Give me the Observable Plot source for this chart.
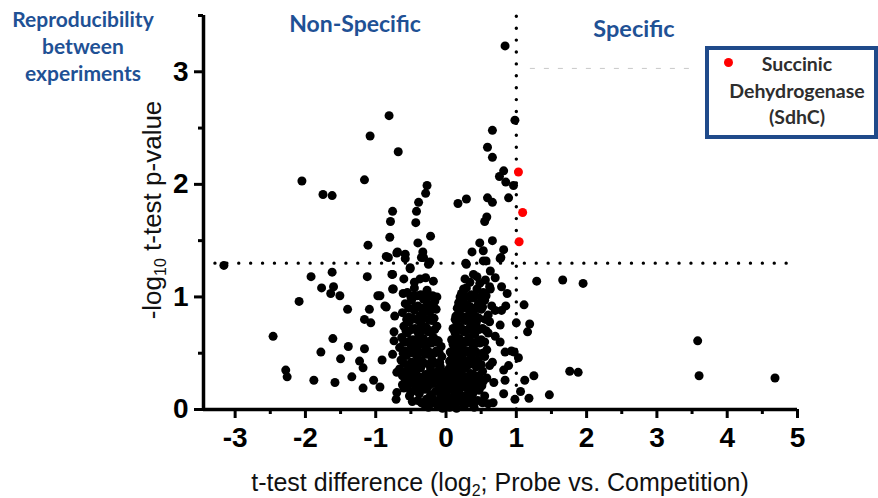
<!DOCTYPE html>
<html><head><meta charset="utf-8">
<script src="https://cdn.jsdelivr.net/npm/d3@7"></script>
<script src="https://cdn.jsdelivr.net/npm/@observablehq/plot@0.6"></script>
<style>
body{margin:0;background:#fff;}
#wrap{position:relative;width:878px;height:498px;overflow:hidden;font-family:"Liberation Sans",Arial,sans-serif;}
#chart{position:absolute;left:0;top:0;}
.blue{position:absolute;color:#1f5195;font-family:Lato,"Open Sans",sans-serif;font-weight:bold;white-space:nowrap;}
#repro{left:-50px;top:5px;width:266px;text-align:center;font-size:21px;line-height:27px;}
#nonspec{left:255px;width:200px;text-align:center;top:9px;font-size:23px;}
#spec{left:534px;width:200px;text-align:center;top:14px;font-size:23.5px;}
#legend{position:absolute;left:705px;top:46px;width:165px;height:85px;border:4px solid #1f4a8a;background:#fff;}
#legdot{position:absolute;left:15px;top:8px;width:9px;height:9px;border-radius:50%;background:#ff0000;}
#legtext{position:absolute;left:0;width:176px;top:1px;text-align:center;font-family:Lato,"Open Sans",sans-serif;font-weight:bold;font-size:19.5px;line-height:26.5px;color:#2e2e2e;}
#xlab{position:absolute;left:150px;width:700px;top:469px;text-align:center;font-size:25px;line-height:26px;color:#111;white-space:nowrap;}
#ylab{position:absolute;left:152px;top:210px;transform:translate(-50%,-50%) rotate(-90deg);font-size:26px;line-height:28px;color:#111;white-space:nowrap;}
sub{font-size:16px;vertical-align:-5px;line-height:0;}
</style>
</head><body>
<div id="wrap">
  <div id="chart"></div>
  <div class="blue" id="repro">Reproducibility<br>between<br>experiments</div>
  <div class="blue" id="nonspec">Non-Specific</div>
  <div class="blue" id="spec">Specific</div>
  <div id="legend"><div id="legdot"></div><div id="legtext">Succinic<br>Dehydrogenase<br>(SdhC)</div></div>
  <div id="xlab">t-test difference (log<sub>2</sub>; Probe vs. Competition)</div>
  <div id="ylab">-log<sub>10</sub> t-test p-value</div>
</div>
<script>
// Tick values
const xTicks = [-3, -2, -1, 0, 1, 2, 3, 4, 5];
const xMinorTicks = [-2.5, -1.5, -0.5, 0.5, 1.5, 2.5, 3.5, 4.5];
const yTicks = [0, 1, 2, 3];
const yMinorTicks = [0.5, 1.5, 2.5, 3.5];
const diffCutoff = [1];
const pCutoff = [1.3];

// Highlighted proteins: SdhC peptides [t-test difference, -log10 p]
const sdhc = [[1.03, 2.11], [1.09, 1.75], [1.04, 1.49]];

// Isolated proteins above/near threshold
const upper = [
  [0.84,3.23],[0.98,2.57],[-0.81,2.61],[-1.08,2.43],[0.66,2.48],[0.59,2.33],[-0.68,2.29],[0.66,2.24],
  [0.82,2.12],[0.76,2.07],[-2.05,2.03],[-1.16,2.04],[0.85,2.02],[0.96,1.99],[-0.27,1.99],[-0.29,1.92],
  [-1.75,1.91],[-1.62,1.90],[0.89,1.88],[0.29,1.87],[0.59,1.88],[0.17,1.83],[0.66,1.84],[-0.39,1.84],
  [-0.76,1.76],[-0.42,1.76],[0.58,1.71],[0.55,1.67],[-0.79,1.67],[-0.43,1.66],[-0.80,1.53],[-0.22,1.54],
  [0.66,1.50],[0.48,1.48],[-0.40,1.48],[-1.11,1.46],[0.82,1.42],[0.53,1.41],[0.37,1.40],[-0.69,1.40],
  [-0.58,1.38],[-0.33,1.40],[-0.85,1.36],[-0.35,1.35],[0.78,1.35],[-0.70,1.39],[0.57,1.32],[-0.23,1.31],
  [0.28,1.30],[-3.16,1.28],[-0.51,1.26]
];

// Proteins right of the difference cutoff, below threshold
const rightSide = [
  [1.29,1.14],[1.66,1.15],[1.95,1.12],[1.11,0.93],[1.19,0.76],[1.16,0.69],[1.00,0.77],[3.58,0.61],
  [3.60,0.30],[4.68,0.28],[1.76,0.34],[1.88,0.33],[1.25,0.30],[1.12,0.26],[1.47,0.13],[1.18,0.10],
  [1.06,0.16],[0.98,0.09],[0.84,0.51],[0.97,0.51],[1.03,0.46],[0.82,0.35],[0.79,1.09],[0.87,1.03],
  [0.85,0.92],[0.79,0.88],[0.77,0.75],[0.77,0.60],[0.93,0.52],[0.89,0.39],[0.84,0.26],[0.82,0.14],[0.67,0.06]
];

// Scattered proteins on the left
const leftSide = [
  [-1.92,1.18],[-1.62,1.22],[-1.12,1.18],[-0.76,1.20],[-1.77,1.08],[-1.60,1.09],[-1.64,1.03],[-1.51,1.01],
  [-2.09,0.96],[-1.40,0.89],[-1.09,0.89],[-1.16,0.80],[-1.07,0.77],[-0.97,1.01],[-0.85,0.91],[-0.76,1.07],
  [-2.46,0.65],[-1.61,0.63],[-1.39,0.56],[-1.16,0.54],[-1.78,0.51],[-1.50,0.45],[-1.23,0.43],[-1.18,0.37],
  [-0.91,0.44],[-0.76,0.49],[-2.28,0.35],[-2.26,0.29],[-1.88,0.26],[-1.58,0.24],[-1.34,0.29],[-1.03,0.26],
  [-0.94,0.20],[-1.18,0.19],[-0.70,0.33],[-0.70,0.15],[-0.71,0.09],[-0.73,0.83],[-0.74,0.69],[-0.74,0.61]
];

// Top edge of the central cloud
const cloudTop = [
  [0.29,1.29],[0.39,1.20],[0.53,1.32],[0.63,1.23],[0.77,1.34],[0.48,1.12],[0.25,1.07],[0.63,1.07],
  [-0.82,1.35],[-0.58,1.34],[-0.32,1.35],[-0.51,1.25],[-0.25,1.29],[-0.77,1.20],[-0.37,1.16],[-0.18,1.14],
  [-0.75,1.07],[-0.61,1.03],[-0.47,1.01],[-0.94,1.01],[-0.13,1.00],[-0.27,0.95],[-0.87,0.92],
  [-0.60,1.16],[-0.45,1.13],[-0.29,1.17],[0.27,1.16],[0.34,1.13],[0.44,1.18],[0.56,1.15],[0.70,1.17]
];

// Dense central cloud
const cloud = [
  [-0.32,0.05],[-0.25,0.02],[-0.18,0.06],[-0.12,0.03],[-0.05,0.01],[0.00,0.04],[0.05,0.02],[0.10,0.05],
  [0.15,0.01],[0.20,0.07],[0.26,0.03],[0.33,0.06],[0.40,0.02],[-0.28,0.09],[-0.08,0.08],[0.08,0.09],
  [0.22,0.10],[0.45,0.08],[-0.40,0.08],[0.60,0.05],
  [-0.48,0.07],[-0.35,0.06],[-0.15,0.08],[0.13,0.08],[0.29,0.07],[0.37,0.09],[0.52,0.06],
  [-0.52,0.12],[-0.45,0.17],[-0.38,0.14],[-0.30,0.18],[-0.22,0.13],[-0.15,0.16],[-0.07,0.12],[0.00,0.15],
  [0.06,0.18],[0.12,0.13],[0.18,0.16],[0.25,0.12],[0.31,0.18],[0.38,0.14],[0.47,0.17],[0.55,0.12],
  [-0.60,0.19],[-0.10,0.19],[0.03,0.11],
  [-0.56,0.20],[-0.42,0.21],[-0.34,0.19],[-0.26,0.20],[-0.02,0.20],[0.09,0.21],[0.16,0.19],[0.23,0.20],
  [0.28,0.21],[0.35,0.19],[0.43,0.20],[0.51,0.21],
  [-0.62,0.22],[-0.55,0.27],[-0.48,0.23],[-0.40,0.28],[-0.33,0.21],[-0.26,0.26],[-0.19,0.23],[-0.12,0.28],
  [-0.05,0.22],[0.02,0.27],[0.07,0.21],[0.13,0.26],[0.19,0.22],[0.25,0.29],[0.32,0.24],[0.40,0.27],
  [0.48,0.22],[0.58,0.28],[0.68,0.24],
  [-0.58,0.25],[-0.44,0.26],[-0.36,0.24],[-0.23,0.25],[-0.16,0.26],[-0.08,0.25],[0.04,0.24],[0.10,0.25],
  [0.16,0.24],[0.22,0.26],[0.29,0.25],[0.36,0.26],[0.44,0.24],[0.53,0.25],
  [-0.62,0.30],[-0.47,0.31],[-0.39,0.29],[-0.25,0.31],[-0.18,0.30],[-0.05,0.29],[0.07,0.30],[0.17,0.31],
  [0.24,0.30],[0.31,0.29],[0.39,0.31],[0.47,0.30],
  [-0.66,0.36],[-0.58,0.32],[-0.50,0.38],[-0.43,0.33],[-0.36,0.37],[-0.29,0.31],[-0.22,0.36],[-0.15,0.32],
  [-0.08,0.38],[-0.02,0.33],[0.04,0.36],[0.09,0.31],[0.15,0.38],[0.21,0.33],[0.28,0.37],[0.35,0.32],
  [0.43,0.38],[0.52,0.34],[0.62,0.39],
  [-0.60,0.41],[-0.52,0.40],[-0.45,0.41],[-0.37,0.40],[-0.31,0.41],[-0.24,0.40],[-0.16,0.41],[-0.09,0.42],
  [0.07,0.40],[0.13,0.41],[0.19,0.40],[0.26,0.41],[0.33,0.40],[0.41,0.42],[0.50,0.40],
  [-0.64,0.44],[-0.56,0.48],[-0.49,0.42],[-0.41,0.47],[-0.34,0.43],[-0.27,0.49],[-0.20,0.44],[-0.13,0.41],
  [-0.06,0.47],[0.05,0.43],[0.10,0.48],[0.16,0.42],[0.23,0.47],[0.30,0.43],[0.37,0.49],[0.45,0.44],
  [0.55,0.47],[0.66,0.42],
  [-0.61,0.50],[-0.53,0.51],[-0.46,0.50],[-0.38,0.51],[-0.31,0.50],[-0.24,0.51],[-0.17,0.50],[-0.10,0.51],
  [0.08,0.50],[0.14,0.51],[0.20,0.50],[0.27,0.51],[0.34,0.50],[0.43,0.51],[0.52,0.50],
  [-0.66,0.55],[-0.58,0.52],[-0.50,0.57],[-0.42,0.53],[-0.35,0.58],[-0.28,0.54],[-0.21,0.59],[-0.14,0.52],
  [-0.07,0.56],[0.06,0.51],[0.11,0.57],[0.17,0.53],[0.24,0.58],[0.31,0.52],[0.39,0.56],[0.48,0.59],[0.58,0.53],
  [-0.59,0.60],[-0.51,0.61],[-0.43,0.60],[-0.36,0.61],[-0.29,0.60],[-0.22,0.61],[-0.14,0.60],[0.10,0.60],
  [0.16,0.61],[0.22,0.60],[0.28,0.61],[0.36,0.60],[0.45,0.61],[0.55,0.60],
  [-0.63,0.64],[-0.55,0.68],[-0.47,0.62],[-0.39,0.67],[-0.32,0.63],[-0.25,0.69],[-0.18,0.64],[-0.11,0.61],
  [0.08,0.62],[0.13,0.68],[0.19,0.63],[0.26,0.69],[0.33,0.64],[0.41,0.67],[0.50,0.62],[0.60,0.68],[0.70,0.65],
  [-0.57,0.70],[-0.49,0.71],[-0.41,0.70],[-0.33,0.71],[-0.23,0.70],[-0.16,0.71],[0.12,0.70],[0.18,0.71],
  [0.24,0.70],[0.31,0.71],[0.39,0.70],[0.47,0.71],[0.57,0.70],
  [-0.60,0.74],[-0.52,0.78],[-0.44,0.72],[-0.36,0.77],[-0.28,0.73],[-0.20,0.79],[-0.13,0.74],[0.10,0.72],
  [0.15,0.78],[0.21,0.73],[0.28,0.79],[0.35,0.74],[0.43,0.77],[0.52,0.72],[0.62,0.78],
  [-0.56,0.80],[-0.48,0.81],[-0.40,0.80],[-0.32,0.81],[-0.25,0.80],[-0.17,0.81],[0.13,0.80],[0.19,0.81],
  [0.25,0.80],[0.32,0.81],[0.39,0.80],[0.47,0.81],[0.56,0.80],
  [-0.62,0.86],[-0.53,0.82],[-0.45,0.88],[-0.37,0.83],[-0.29,0.87],[-0.21,0.82],[-0.14,0.89],[0.14,0.83],
  [0.20,0.88],[0.27,0.82],[0.34,0.87],[0.42,0.83],[0.50,0.89],[0.60,0.84],[0.70,0.88],
  [-0.53,0.90],[-0.44,0.91],[-0.35,0.90],[-0.27,0.91],[-0.19,0.90],[0.16,0.90],[0.22,0.91],[0.28,0.90],
  [0.35,0.91],[0.42,0.90],[0.52,0.91],
  [-0.58,0.94],[-0.49,0.97],[-0.40,0.92],[-0.32,0.98],[-0.24,0.93],[-0.16,0.96],[0.18,0.92],[0.24,0.97],
  [0.31,0.93],[0.38,0.99],[0.46,0.94],[0.55,0.97],[0.65,0.92],
  [-0.50,1.00],[-0.41,1.01],[-0.31,1.00],[-0.23,1.01],[0.20,1.00],[0.27,1.01],[0.33,1.00],[0.41,1.01],
  [0.49,1.00],[0.57,1.01],
  [-0.55,1.04],[-0.45,1.08],[-0.36,1.02],[-0.27,1.06],[-0.19,1.01],[0.22,1.03],[0.29,1.08],[0.36,1.02],
  [0.44,1.07],[0.53,1.04],[0.62,1.09],
  [0.05,0.32],[0.08,0.45],[0.10,0.58],[0.12,0.36],[0.17,0.47],[0.20,0.60],[0.14,0.70],[0.22,0.38],
  [0.27,0.52],[0.08,0.25],[0.15,0.20],[0.20,0.30],[0.03,0.08],[0.12,0.07],[0.30,0.12],[0.35,0.45],
  [0.30,0.60],[0.24,0.82],[0.18,0.95],[0.36,0.90],
  [-0.20,0.10],[-0.30,0.30],[-0.40,0.40],[-0.25,0.50],[-0.15,0.62],[-0.35,0.70],[-0.45,0.55],[-0.10,0.35],
  [-0.55,0.35],[-0.50,0.15],[-0.18,0.42],[-0.05,0.15],[-0.42,0.80],[-0.22,0.88],[-0.60,0.60]
];

// Faint dashed artifact line near top right
const faintLineY = [3.03];

const allBlack = [...upper, ...rightSide, ...leftSide, ...cloudTop, ...cloud];
const fmt = d => String(d);
const tickFont = {fontFamily: "'Liberation Sans Narrow','Arial Narrow','Liberation Sans',Arial,sans-serif", fontWeight: "bold", fontSize: 28};

const chart = Plot.plot({
  width: 878, height: 498,
  marginLeft: 203, marginRight: 81, marginTop: 15, marginBottom: 89,
  style: {background: "transparent", color: "#000", overflow: "visible"},
  x: {domain: [-3.45, 5]},
  y: {domain: [0, 3.5]},
  marks: [
    Plot.ruleY(faintLineY, {x1: 1.2, x2: 3.5, stroke: "#c8c8c8", strokeWidth: 1, strokeDasharray: "5,9"}),
    Plot.ruleX(diffCutoff, {y1: 0, y2: 3.5, stroke: "#000", strokeWidth: 3.4, strokeDasharray: "0,11.9", strokeLinecap: "round"}),
    Plot.ruleY(pCutoff, {x1: -3.28, x2: 5, stroke: "#000", strokeWidth: 3.4, strokeDasharray: "0,11.9", strokeLinecap: "round"}),
    Plot.dot(allBlack, {x: d => d[0], y: d => d[1], r: 4.5, fill: "#000", stroke: "none"}),
    Plot.dot(sdhc, {x: d => d[0], y: d => d[1], r: 4.5, fill: "#ff0000", stroke: "none"}),
    Plot.ruleY([0], {x1: -3.45, x2: 5, stroke: "#000", strokeWidth: 3.5}),
    Plot.ruleX([-3.45], {y1: 0, y2: 3.5, stroke: "#000", strokeWidth: 3.5}),
    Plot.axisX({ticks: xTicks, tickFormat: fmt, tickSize: 9, tickPadding: 9, strokeWidth: 3, label: null, ...tickFont}),
    Plot.axisX({ticks: xMinorTicks, tickSize: 5, strokeWidth: 3, fill: null, label: null}),
    Plot.axisY({ticks: yTicks, tickFormat: fmt, tickSize: 9, tickPadding: 6, strokeWidth: 3, label: null, ...tickFont}),
    Plot.axisY({ticks: yMinorTicks, tickSize: 5, strokeWidth: 3, fill: null, label: null})
  ]
});
document.getElementById("chart").appendChild(chart);
</script>
</body></html>
